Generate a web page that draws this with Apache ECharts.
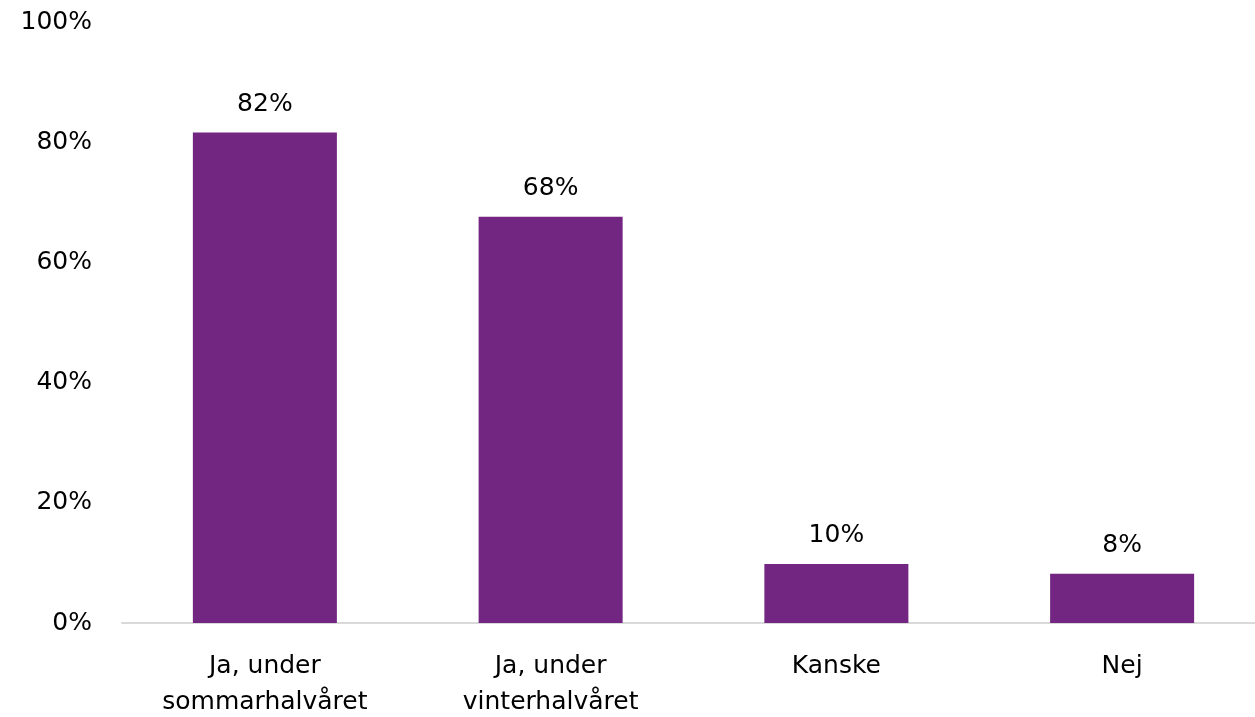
<!DOCTYPE html>
<html><head><meta charset="utf-8">
<script src="https://cdn.jsdelivr.net/npm/echarts@6/dist/echarts.min.js"></script>
<style>html,body{margin:0;padding:0;background:#fff}#c{width:1255px;height:717px}</style>
</head><body><div id="c"></div>
<script>
const categories = ["Ja, under\nsommarhalvåret", "Ja, under\nvinterhalvåret", "Kanske", "Nej"];
const values = [81.6, 67.6, 9.8, 8.2];
const yTicks = [0, 20, 40, 60, 80, 100];

const font = "'DejaVu Sans', 'Liberation Sans', Arial, sans-serif";
const chart = echarts.init(document.getElementById('c'), null, {renderer: 'canvas'});
chart.setOption({
  animation: false,
  grid: {left: 122, width: 1143, top: 22, height: 601, containLabel: false, outerBoundsMode: 'none'},
  xAxis: {
    type: 'category', data: categories,
    axisLine: {lineStyle: {color: '#d9d9d9', width: 2}},
    axisTick: {show: false},
    axisLabel: {color: '#000', fontFamily: font, fontSize: 25, margin: 25, lineHeight: 36, interval: 0}
  },
  yAxis: {
    type: 'value', min: yTicks[0], max: yTicks[yTicks.length-1], interval: yTicks[1]-yTicks[0],
    splitLine: {show: false}, axisLine: {show: false}, axisTick: {show: false},
    axisLabel: {color: '#000', fontFamily: font, fontSize: 25, margin: 30, formatter: v => v + '%'}
  },
  series: [{
    type: 'bar', data: values, barWidth: '50.4%',
    itemStyle: {color: '#722581'},
    label: {show: true, position: 'top', distance: 16, color: '#000', fontFamily: font, fontSize: 25,
      formatter: p => Math.round(p.value) + '%'}
  }]
});
</script></body></html>
